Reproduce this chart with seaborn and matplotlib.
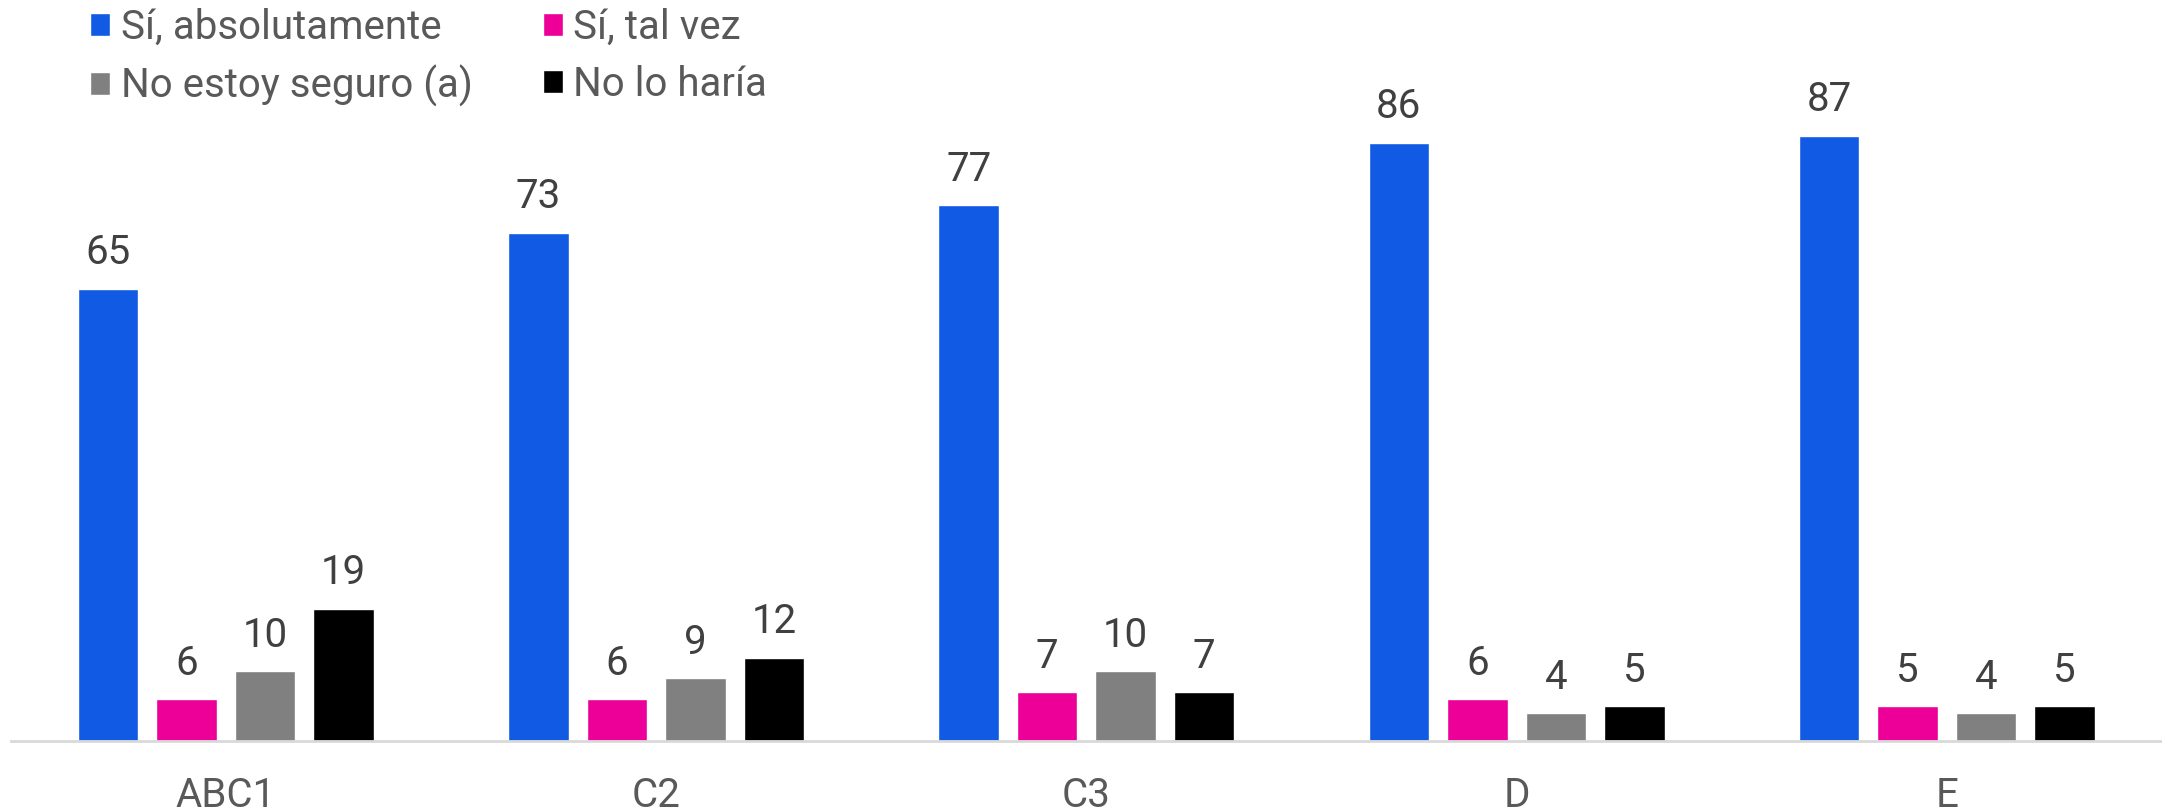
import pandas as pd
import matplotlib.pyplot as plt
import seaborn as sns

# data
groups = ["ABC1", "C2", "C3", "D", "E"]
answers = ["Sí, absolutamente", "Sí, tal vez", "No estoy seguro (a)", "No lo haría"]
si_absolutamente = [65, 73, 77, 86, 87]
si_tal_vez = [6, 6, 7, 6, 5]
no_seguro = [10, 9, 10, 4, 4]
no_lo_haria = [19, 12, 7, 5, 5]
colors = ["#115AE3", "#EC0098", "#808080", "#000000"]


def build_frame():
    series = [si_absolutamente, si_tal_vez, no_seguro, no_lo_haria]
    rows = []
    for answer, values in zip(answers, series):
        for g, v in zip(groups, values):
            rows.append({"grupo": g, "respuesta": answer, "valor": v})
    return pd.DataFrame(rows)


df = build_frame()

sns.set_style("white")
plt.rcParams["font.family"] = ["Roboto", "DejaVu Sans"]

fig = plt.figure(figsize=(21.62, 8.11), dpi=100)
ax = fig.add_axes([0.005, 70 / 811, 0.995, 741 / 811])

sns.barplot(data=df, x="grupo", y="valor", hue="respuesta",
            order=groups, hue_order=answers, palette=colors,
            width=0.73, gap=0.23, saturation=1, ax=ax)

for cont in ax.containers:
    ax.bar_label(cont, fmt="%d", padding=12, fontsize=29, color="#404040")

ax.set_xlim(-0.5, 4.5)
ax.set_ylim(0, 106.5)
ax.set_xlabel("")
ax.set_ylabel("")
ax.set_yticks([])
ax.tick_params(axis="x", length=0, pad=25, labelsize=29, labelcolor="#595959")
for side in ["top", "left", "right"]:
    ax.spines[side].set_visible(False)
ax.spines["bottom"].set_color("#D9D9D9")
ax.spines["bottom"].set_linewidth(2)

# legend fills row by row in the reference, matplotlib fills by column
handles, labels = ax.get_legend_handles_labels()
order = [0, 2, 1, 3]
ax.legend([handles[i] for i in order], [labels[i] for i in order],
          ncol=2, loc="upper left",
          bbox_to_anchor=(0.025, 1.035), bbox_transform=fig.transFigure,
          frameon=False, fontsize=29, labelcolor="#595959",
          handlelength=0.5, handleheight=0.5, handletextpad=0.25,
          columnspacing=1.75, labelspacing=0.45)

fig.savefig("out.png", dpi=100)
plt.close(fig)
